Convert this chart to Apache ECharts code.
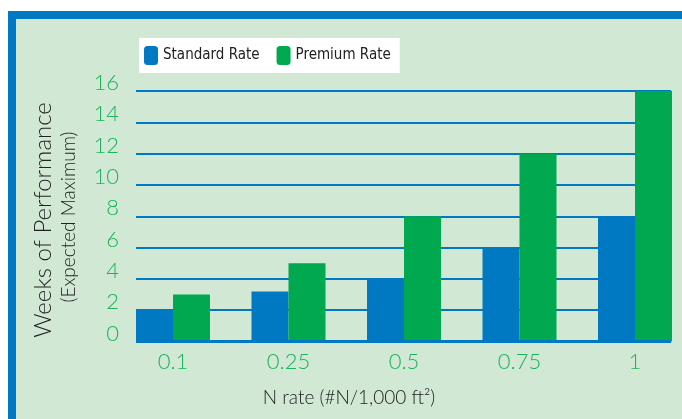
<!DOCTYPE html>
<html>
<head>
<meta charset="utf-8">
<script src="https://cdn.jsdelivr.net/npm/echarts@6/dist/echarts.min.js"></script>
<style>
  html, body { margin: 0; padding: 0; background: #ffffff; overflow: hidden; width: 682px; height: 419px; }
  #frame { position: absolute; left: 8px; top: 11px; width: 720px; height: 460px;
           background: #D0E8D4; border-left: 8px solid #0079C2; border-top: 8px solid #0079C2; box-sizing: border-box; }
  #chart { position: absolute; left: 0; top: 0; width: 720px; height: 419px; }
</style>
</head>
<body>
<div id="frame"></div>
<div id="chart"></div>
<script>
const categories = ['0.1', '0.25', '0.5', '0.75', '1'];
const standardRate = [2, 3.2, 4, 6, 8];
const premiumRate = [3, 5, 8, 12, 16];
const yTicks = { min: 0, max: 16, interval: 2 };
const seriesNames = ['Standard Rate', 'Premium Rate'];

const BLUE = '#0079C2';
const GREEN = '#00A84F';
const LABEL_GREEN = '#1DB35B';
const NUM_FONT = 'Lato, sans-serif';

const chart = echarts.init(document.getElementById('chart'));
const gridTop = 91, gridBottom = 419 - 341.5;

chart.setOption({
  backgroundColor: 'transparent',
  animation: false,
  legend: {
    data: seriesNames,
    left: 139, top: 38,
    backgroundColor: '#ffffff',
    padding: [8, 9, 8, 5],
    itemWidth: 14, itemHeight: 19,
    itemGap: 17,
    borderRadius: 0,
    textStyle: { fontFamily: 'DejaVu Sans Condensed, sans-serif', fontSize: 15, color: '#222222' }
  },
  grid: [
    { left: 136, width: 535, top: gridTop, bottom: gridBottom },
    { left: 136 - 20.75, width: 577.5, top: gridTop, bottom: gridBottom }
  ],
  xAxis: [
    { gridIndex: 0, type: 'value', min: 0, max: 1, show: true,
      axisLine: { show: false }, axisTick: { show: false }, axisLabel: { show: false }, splitLine: { show: false } },
    { gridIndex: 1, type: 'category', data: categories,
      axisLine: { show: false }, axisTick: { show: false },
      axisLabel: { color: LABEL_GREEN, fontFamily: NUM_FONT, fontWeight: 300, fontSize: 22, margin: 9 } }
  ],
  yAxis: [
    { gridIndex: 0, type: 'value', min: yTicks.min, max: yTicks.max, interval: yTicks.interval,
      axisLine: { show: false }, axisTick: { show: false },
      axisLabel: { color: LABEL_GREEN, fontFamily: NUM_FONT, fontWeight: 300, fontSize: 22, margin: 17,
                   verticalAlign: 'bottom', lineHeight: 16 },
      splitLine: { show: true, lineStyle: { color: BLUE, width: 2 } } },
    { gridIndex: 1, type: 'value', min: yTicks.min, max: yTicks.max, interval: yTicks.interval, show: false }
  ],
  series: [
    { name: seriesNames[0], type: 'bar', xAxisIndex: 1, yAxisIndex: 1, data: standardRate,
      barWidth: 37, barGap: '0%', itemStyle: { color: BLUE }, z: 3 },
    { name: seriesNames[1], type: 'bar', xAxisIndex: 1, yAxisIndex: 1, data: premiumRate,
      barWidth: 37, barGap: '0%', itemStyle: { color: GREEN }, z: 3 },
    { type: 'line', xAxisIndex: 0, yAxisIndex: 0, data: [[0, 0], [1, 0]], symbol: 'none',
      lineStyle: { color: BLUE, width: 3 }, z: 4, silent: true, legendHoverLink: false }
  ],
  graphic: [
    { type: 'text', x: 43, y: 220, rotation: Math.PI / 2,
      style: { text: 'Weeks of Performance', fill: '#222222', font: '300 24px Lato, sans-serif', align: 'center', verticalAlign: 'middle' } },
    { type: 'text', x: 69, y: 217, rotation: Math.PI / 2,
      style: { text: '(Expected Maximum)', fill: '#222222', font: '300 19px Lato, sans-serif', align: 'center', verticalAlign: 'middle' } },
    { type: 'text', x: 349, y: 398,
      style: { text: 'N rate (#N/1,000 ft²)', fill: '#222222', font: '300 19px Lato, sans-serif', align: 'center', verticalAlign: 'middle' } }
  ]
});
</script>
</body>
</html>
